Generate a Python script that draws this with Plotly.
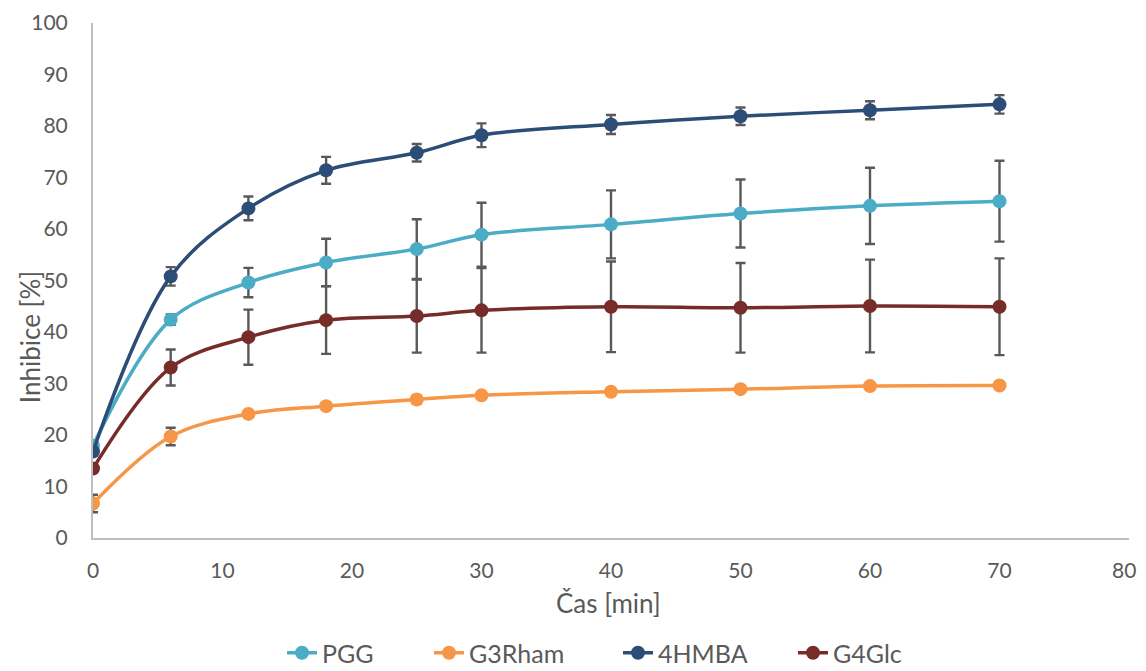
import plotly.graph_objects as go

time_min = [0, 6, 12, 18, 25, 30, 40, 50, 60, 70]
x_ticks = [0, 10, 20, 30, 40, 50, 60, 70, 80]

pgg = [17.9, 42.4, 49.6, 53.5, 56.1, 58.9, 60.9, 63.0, 64.5, 65.4]
pgg_err = [0.5, 1.0, 2.85, 4.6, 5.8, 6.2, 6.6, 6.6, 7.4, 7.85]

g3rham = [6.7, 19.7, 24.1, 25.6, 26.9, 27.7, 28.4, 28.9, 29.5, 29.6]
g3rham_err = [1.7, 1.7, 0.4, 0.5, 0.8, 0.6, 0.4, 0.5, 0.6, 0.5]

hmba = [16.8, 50.8, 64.0, 71.4, 74.8, 78.2, 80.3, 81.9, 83.05, 84.2]
hmba_err = [0.5, 1.8, 2.3, 2.6, 1.7, 2.3, 1.85, 1.7, 1.75, 1.8]

g4glc = [13.5, 33.1, 39.0, 42.3, 43.1, 44.2, 44.9, 44.7, 45.05, 44.9]
g4glc_err = [0.5, 3.5, 5.35, 6.55, 7.1, 8.2, 8.8, 8.7, 9.0, 9.4]

series = [
    ("PGG", pgg, pgg_err, "#4BACC6"),
    ("G3Rham", g3rham, g3rham_err, "#F79646"),
    ("4HMBA", hmba, hmba_err, "#2C4D75"),
    ("G4Glc", g4glc, g4glc_err, "#772C2A"),
]
legend_ids = ["legend", "legend2", "legend3", "legend4"]
legend_x = [274, 421, 610, 785]  # legend anchor positions (px) in the figure

W, H = 1130, 663
fig = go.Figure()
for (name, vals, errs, color), lid in zip(series, legend_ids):
    fig.add_trace(go.Scatter(
        x=time_min, y=vals, name=name, legend=lid,
        mode="lines+markers",
        line=dict(color=color, width=3.5, shape="spline", smoothing=1.0),
        marker=dict(color=color, size=14),
        error_y=dict(type="data", array=errs, visible=True,
                     color="#595959", thickness=2.4, width=5),
    ))

font_family = "Lato, 'Open Sans', sans-serif"
grey = "#595959"
legends = {}
for lid, lx in zip(legend_ids, legend_x):
    legends[lid] = dict(orientation="h", xref="container", x=lx / W, xanchor="left",
                        yref="container", y=18 / H, yanchor="middle",
                        font=dict(size=25, color=grey), itemwidth=30,
                        bgcolor="rgba(0,0,0,0)")

# last x tick label sits at the very edge of the page: draw it right-aligned
last_tick = x_ticks[-1]
fig.update_layout(
    width=W, height=H,
    margin=dict(l=85, r=9, t=15, b=133),
    plot_bgcolor="white", paper_bgcolor="white",
    font=dict(family=font_family, color=grey, size=21),
    showlegend=True,
    xaxis=dict(range=[x_ticks[0], last_tick], tickvals=x_ticks[:-1],
               showgrid=False, zeroline=False,
               showline=True, linecolor="#BFBFBF", linewidth=2, automargin=False,
               ticks="outside", ticklen=13, tickcolor="rgba(0,0,0,0)",
               tickfont=dict(size=21, color=grey)),
    yaxis=dict(range=[0, 100], tick0=0, dtick=10, showgrid=False, zeroline=False,
               showline=True, linecolor="#BFBFBF", linewidth=2, automargin=False,
               ticks="outside", ticklen=19, tickcolor="rgba(0,0,0,0)",
               tickfont=dict(size=21, color=grey)),
    annotations=[
        dict(text=str(last_tick), xref="x", yref="paper", x=last_tick, y=0,
             xanchor="right", yanchor="middle", xshift=9, yshift=-31,
             showarrow=False, font=dict(size=21, color=grey)),
        dict(text="Čas [min]", xref="paper", yref="paper", x=0.498, y=-0.127,
             xanchor="center", yanchor="middle", showarrow=False,
             font=dict(size=26, color=grey)),
        dict(text="Inhibice [%]", xref="paper", yref="paper", x=-0.0608, y=0.39,
             xanchor="center", yanchor="middle", textangle=-90, showarrow=False,
             font=dict(size=26, color=grey)),
    ],
    **legends,
)

fig.write_html("out.html")
